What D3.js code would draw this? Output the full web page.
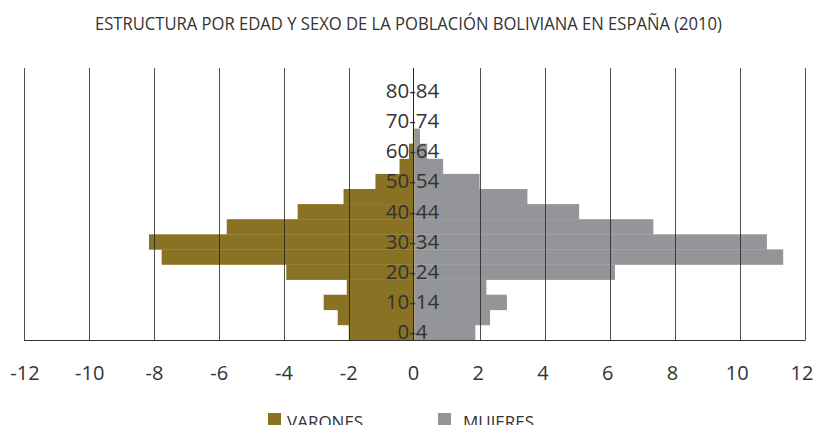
<!DOCTYPE html>
<html>
<head>
<meta charset="utf-8">
<script src="https://cdn.jsdelivr.net/npm/d3@7"></script>
<style>
  body { margin: 0; background: #fff; }
  svg { display: block; font-family: "Open Sans", sans-serif; }
</style>
</head>
<body>
<svg id="chart" width="815" height="425"></svg>
<script>
const ageGroups = ["0-4", "5-9", "10-14", "15-19", "20-24", "25-29", "30-34", "35-39",
  "40-44", "45-49", "50-54", "55-59", "60-64", "65-69", "70-74", "75-79", "80-84"];
const varones = [2.02, 2.36, 2.79, 2.08, 3.94, 7.77, 8.16, 5.77, 3.59, 2.18, 1.2, 0.46, 0.17, 0.05, 0, 0, 0];
const mujeres = [1.87, 2.32, 2.84, 2.21, 6.16, 11.33, 10.83, 7.34, 5.06, 3.47, 2.0, 0.88, 0.39, 0.17, 0, 0, 0];
const xTicks = [-12, -10, -8, -6, -4, -2, 0, 2, 4, 6, 8, 10, 12];
const legendItems = ["VARONES", "MUJERES"];

const COLORS = { VARONES: "#8a7224", MUJERES: "#939598" };

const svg = d3.select("#chart");

const x = d3.scaleLinear().domain([-12, 12]).range([24, 805]);
// tick labels sit slightly inside the gridline span
const xLabel = d3.scaleLinear().domain([-12, 12]).range([25, 802]);
const y = d3.scaleBand().domain(ageGroups).range([340, 340 - 17 * 15.1]).padding(0);
const plotTop = 68;

svg.append("text")
  .attr("x", 95).attr("y", 30)
  .attr("textLength", 627)
  .attr("lengthAdjust", "spacingAndGlyphs")
  .style("font-size", "18px")
  .style("fill", "#333")
  .text("ESTRUCTURA POR EDAD Y SEXO DE LA POBLACIÓN BOLIVIANA EN ESPAÑA (2010)");

// bars
svg.append("g").selectAll("rect")
  .data(ageGroups.map((g, i) => ({ g, v: varones[i] })))
  .join("rect")
  .attr("x", d => x(-d.v))
  .attr("width", d => x(0) - x(-d.v))
  .attr("y", d => y(d.g))
  .attr("height", y.bandwidth() + 0.3)
  .attr("fill", COLORS.VARONES);

svg.append("g").selectAll("rect")
  .data(ageGroups.map((g, i) => ({ g, v: mujeres[i] })))
  .join("rect")
  .attr("x", x(0))
  .attr("width", d => x(d.v) - x(0))
  .attr("y", d => y(d.g))
  .attr("height", y.bandwidth() + 0.3)
  .attr("fill", COLORS.MUJERES);

// gridlines on top of bars
svg.append("g").selectAll("line")
  .data(xTicks.filter(t => t !== 0))
  .join("line")
  .attr("x1", d => Math.round(x(d)) + 0.5).attr("x2", d => Math.round(x(d)) + 0.5)
  .attr("y1", plotTop).attr("y2", 340)
  .attr("stroke", "#222").attr("stroke-opacity", 0.8);

// central axis
svg.append("line")
  .attr("x1", Math.round(x(0)) - 1.5).attr("x2", Math.round(x(0)) - 1.5)
  .attr("y1", plotTop).attr("y2", 340)
  .attr("stroke", "#222");

// bottom axis line
svg.append("line")
  .attr("x1", x(-12)).attr("x2", x(12) + 0.5)
  .attr("y1", 340.5).attr("y2", 340.5)
  .attr("stroke", "#333");

// age labels
svg.append("g").selectAll("text")
  .data(ageGroups.filter((g, i) => i % 2 === 0))
  .join("text")
  .attr("x", x(0) - 2)
  .attr("y", d => y(d) + y.bandwidth() / 2 - 0.5)
  .attr("dy", "0.36em")
  .attr("text-anchor", "middle")
  .style("font-size", "20.5px")
  .style("fill", "#333")
  .text(d => d);

// x tick labels
svg.append("g").selectAll("text")
  .data(xTicks)
  .join("text")
  .attr("x", d => xLabel(d))
  .attr("y", 380)
  .attr("text-anchor", "middle")
  .style("font-size", "20px")
  .style("fill", "#333")
  .text(d => d);

// legend
const legend = svg.append("g").selectAll("g")
  .data(legendItems)
  .join("g")
  .attr("transform", (d, i) => `translate(${i === 0 ? 268 : 438},413)`);
legend.append("rect")
  .attr("width", 13).attr("height", 13)
  .attr("fill", d => COLORS[d]);
legend.append("text")
  .attr("x", (d, i) => i === 0 ? 19 : 25)
  .attr("y", 13)
  .attr("dy", "0.1em")
  .style("font-size", "17px")
  .style("fill", "#333")
  .text(d => d);
</script>
</body>
</html>
